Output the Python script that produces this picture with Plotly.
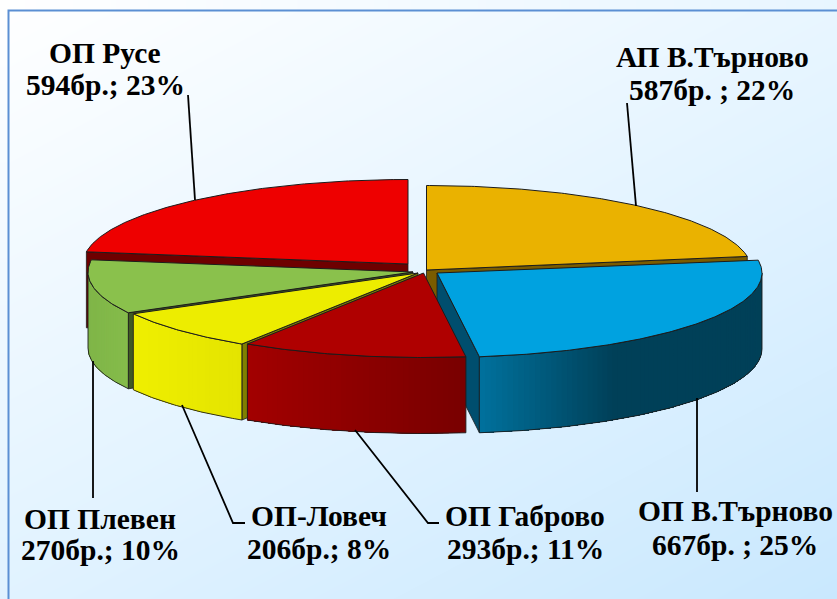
import math
import plotly.graph_objects as go

# ---- chart data, clockwise from 12 o'clock ----
names = ["АП В.Търново", "ОП В.Търново", "ОП Габрово", "ОП-Ловеч", "ОП Плевен", "ОП Русе"]
counts = [587, 667, 293, 206, 270, 594]
value_labels = ["587бр. ; 22%", "667бр. ; 25%", "293бр.; 11%", "206бр.; 8%", "270бр.; 10%", "594бр.; 23%"]

# ---- styling ----
top_colors = ["#EAB200", "#00A2E0", "#AF0000", "#EDED00", "#8AC14C", "#EE0000"]
cap_colors = ["#7A5C00", "#004E6E", "#800000", "#808000", "#3F5A24", "#6E0000"]
wall_left = ["#7A5C00", "#00719D", "#A20000", "#EFEF00", "#7FB548", "#6E0000"]
wall_right = ["#7A5C00", "#004058", "#780000", "#E4E400", "#85BC4A", "#6E0000"]
# exploded centre of each slice on the canvas
centres = [(426.5, 270), (437, 273), (423.5, 273), (418, 273), (413, 272), (408, 264)]
RX, RY, DEPTH = 325, 84.5, 76
draw_order = [5, 0, 4, 3, 1, 2]

label_pos = [(712, 57, 90), (735, 511, 545), (525, 516, 549), (319, 516, 549), (100, 519, 550), (105, 53, 85)]
leaders = [
    [(627, 103), (636, 206)],
    [(697, 398), (697, 492)],
    [(355, 430), (428, 523), (439, 523)],
    [(182, 405), (233, 523), (245, 523)],
    [(93, 361), (93, 498)],
    [(188, 95), (195, 200)],
]
W, H = 837, 599
FONT = "Liberation Serif"
FONT_SIZE = 29.5
OUTLINE = "#1c1c1c"

total = sum(counts)
edges = [0.0]
for c in counts:
    edges.append(edges[-1] + 360.0 * c / total)


def rim(i, a):
    cx, cy = centres[i]
    r = math.radians(a)
    return cx + RX * math.sin(r), cy - RY * math.cos(r)


def arc(i, a0, a1, n=None):
    n = n or max(2, int(abs(a1 - a0) * 2))
    return [rim(i, a0 + (a1 - a0) * k / n) for k in range(n + 1)]


def mix(c1, c2, t):
    a = [int(c1[j:j + 2], 16) for j in (1, 3, 5)]
    b = [int(c2[j:j + 2], 16) for j in (1, 3, 5)]
    return "rgb(%d,%d,%d)" % tuple(round(p + (q - p) * t) for p, q in zip(a, b))


def poly(fig, pts, fill, line=None, width=1.0):
    xs = [p[0] for p in pts]
    ys = [p[1] for p in pts]
    fig.add_trace(go.Scatter(
        x=xs + xs[:1], y=ys + ys[:1], mode="lines", fill="toself", fillcolor=fill,
        line=dict(color=line or fill, width=width), hoverinfo="skip", showlegend=False))


fig = go.Figure()

# background gradient
gx = [9 + (W - 9) * k / 12 for k in range(13)]
gy = [11 + (H - 11) * k / 12 for k in range(13)]
gz = [[(x / W * 0.55 + y / H * 0.75) for x in gx] for y in gy]
fig.add_trace(go.Heatmap(
    x=gx, y=gy, z=gz, zmin=0, zmax=1.3, zsmooth="best", showscale=False, hoverinfo="skip",
    colorscale=[[0, "#FFFFFF"], [0.55, "#E2F3FF"], [1, "#C9E8FE"]]))

for i in draw_order:
    a0, a1 = edges[i], edges[i + 1]
    cx, cy = centres[i]
    # radial side faces that face the viewer
    visible_caps = []
    if a1 < 180:
        visible_caps.append(a1)
    if a0 > 180:
        visible_caps.append(a0)
    for a in visible_caps:
        x, y = rim(i, a)
        poly(fig, [(cx, cy), (x, y), (x, y + DEPTH), (cx, cy + DEPTH)], cap_colors[i], OUTLINE, 0.8)
    # curved wall: only the front half of the rim
    w0, w1 = max(a0, 90), min(a1, 270)
    if w1 > w0:
        steps = max(4, int(w1 - w0))
        xa, xb = rim(i, w0)[0], rim(i, w1)[0]
        x_l, x_r = min(xa, xb), max(xa, xb)
        for k in range(steps):
            s0 = w0 + (w1 - w0) * k / steps
            s1 = w0 + (w1 - w0) * (k + 1) / steps
            t = ((rim(i, s0)[0] + rim(i, s1)[0]) / 2 - x_l) / (x_r - x_l)
            if i == 1:  # the blue wall reaches its dark tone part-way along
                t = min(1.0, t * 2.1)
            col = mix(wall_left[i], wall_right[i], t)
            # every band runs on to the end of the wall, so no seams appear between bands
            upper = arc(i, s0, w1)
            lower = [(p[0], p[1] + DEPTH) for p in reversed(upper)]
            poly(fig, upper + lower, col, col, 0)
        upper = arc(i, w0, w1)
        lower = [(p[0], p[1] + DEPTH) for p in reversed(upper)]
        outline = upper + lower + upper[:1]
        fig.add_trace(go.Scatter(
            x=[p[0] for p in outline], y=[p[1] for p in outline], mode="lines",
            line=dict(color=OUTLINE, width=0.9), hoverinfo="skip", showlegend=False))
    # top face
    poly(fig, [(cx, cy)] + arc(i, a0, a1), top_colors[i], OUTLINE, 1.0)

# leader lines
for seg in leaders:
    fig.add_trace(go.Scatter(
        x=[p[0] for p in seg], y=[p[1] for p in seg], mode="lines",
        line=dict(color="#000000", width=1.8), hoverinfo="skip", showlegend=False))

# labels
annotations = []
for name, val, (x, y1, y2) in zip(names, value_labels, label_pos):
    for text, y in ((name, y1), (val, y2)):
        annotations.append(dict(
            x=x, y=y, xref="x", yref="y", text="<b>%s</b>" % text, showarrow=False,
            xanchor="center", yanchor="middle",
            font=dict(family=FONT, size=FONT_SIZE, color="#000000")))

fig.update_layout(
    width=W, height=H, autosize=False,
    margin=dict(l=0, r=0, t=0, b=0),
    paper_bgcolor="#FFFFFF", plot_bgcolor="#FFFFFF",
    showlegend=False,
    xaxis=dict(range=[0, W], visible=False, fixedrange=True),
    yaxis=dict(range=[H, 0], visible=False, fixedrange=True),
    annotations=annotations,
    shapes=[dict(type="rect", xref="x", yref="y", x0=8.5, y0=10.5, x1=W + 5, y1=H + 5,
                 line=dict(color="#5B8FD3", width=2), layer="above")],
)
fig.write_html("out.html", config={"displayModeBar": False},
               post_script="document.body.style.margin='0';document.documentElement.style.overflow='hidden';")
